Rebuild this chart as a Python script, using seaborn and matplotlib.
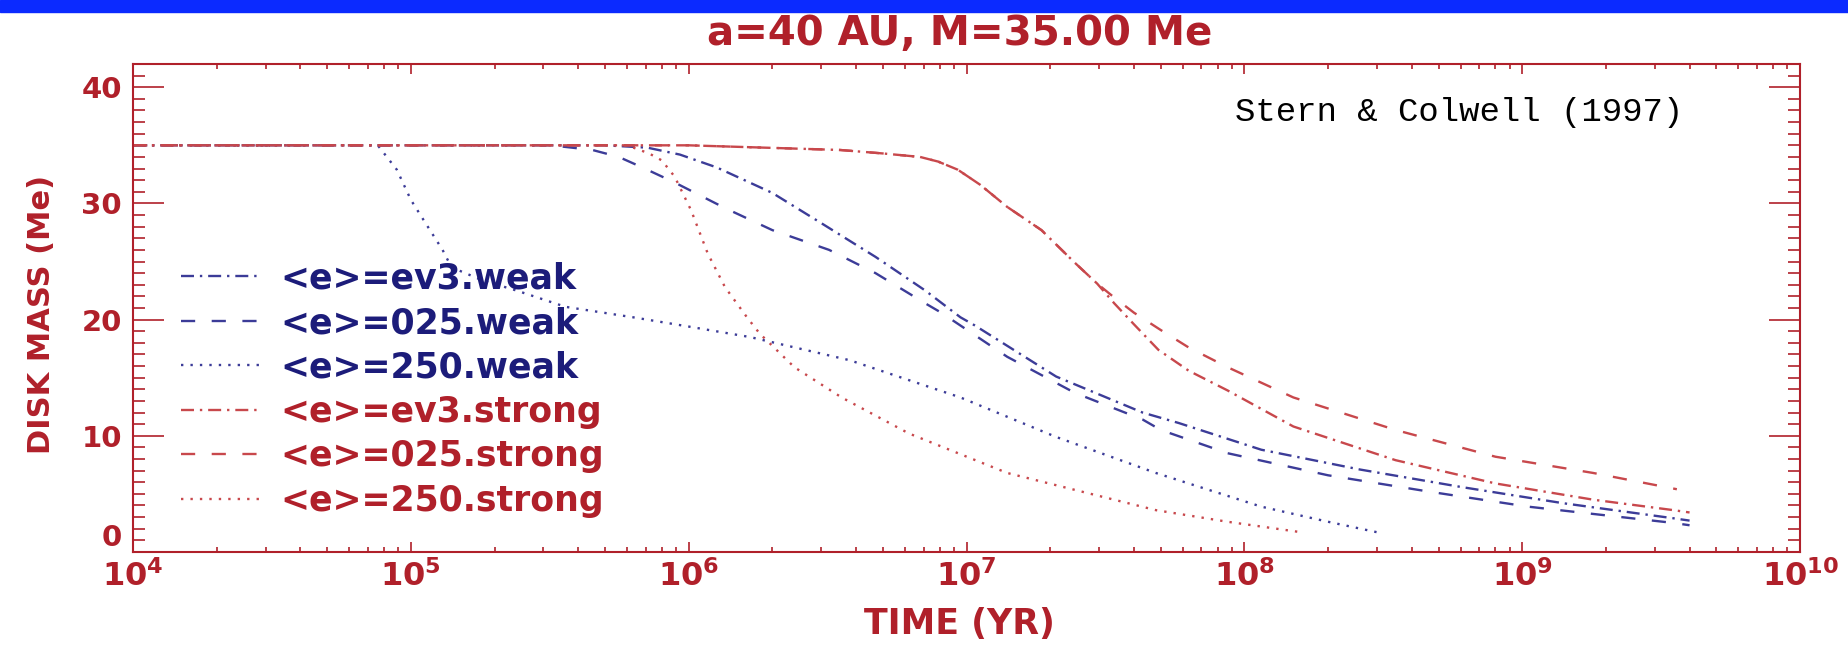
import numpy as np
import pandas as pd
import matplotlib
matplotlib.use('Agg')
import matplotlib.pyplot as plt
from matplotlib import ticker
from matplotlib.patches import Rectangle
import seaborn as sns

t_ev3_weak = [1e4, 5.0e5, 7.1e5, 9.3e5, 1.26e6, 2.0e6, 3.0e6, 4.7e6, 7.1e6, 9.5e6, 1.07e7,
              2.1e7, 4.3e7, 5.8e7, 1.15e8, 2.6e8, 6.0e8, 1.4e9, 3.5e9, 4.0e9]
m_ev3_weak = [35.0, 35.0, 34.8, 34.2, 33.1, 30.9, 28.3, 25.4, 22.5, 20.2, 19.5,
              15.1, 12.0, 11.1, 8.8, 7.1, 5.6, 4.2, 2.9, 2.7]

t_025_weak = [1e4, 3.2e5, 4.5e5, 5.6e5, 6.8e5, 8.9e5, 1.35e6, 2.0e6, 3.2e6, 4.7e6, 7.1e6,
              8.1e6, 1.4e7, 2.45e7, 4.3e7, 5.0e7, 8.7e7, 2.0e8, 4.6e8, 1.05e9, 3.5e9, 4.0e9]
m_025_weak = [35.0, 35.0, 34.6, 34.0, 33.1, 31.8, 29.6, 27.7, 26.0, 24.0, 21.4,
              20.6, 16.8, 13.7, 11.4, 10.5, 8.5, 6.6, 5.2, 3.9, 2.5, 2.3]

t_250_weak = [1e4, 7.6e4, 8.9e4, 1.0e5, 1.15e5, 1.3e5, 1.4e5, 1.8e5, 2.4e5, 3.6e5, 6.3e5,
              1.0e6, 1.66e6, 3.8e6, 9.5e6, 2.1e7, 4.8e7, 1.15e8, 2.0e8, 3.0e8]
m_250_weak = [35.0, 35.0, 32.9, 30.3, 28.0, 26.0, 24.5, 23.4, 22.5, 21.1, 20.2,
              19.4, 18.5, 16.5, 13.3, 9.9, 6.8, 3.9, 2.6, 1.7]

t_ev3_strong = [1e4, 1.0e6, 3.5e6, 5.0e6, 6.8e6, 7.9e6, 9.3e6, 1.12e7, 1.4e7, 1.86e7, 2.45e7,
                2.95e7, 3.4e7, 4.0e7, 4.9e7, 6.3e7, 8.7e7, 1.5e8, 3.5e8, 8.0e8, 1.8e9,
                3.5e9, 4.0e9]
m_ev3_strong = [35.0, 35.0, 34.6, 34.3, 34.0, 33.6, 32.9, 31.6, 29.7, 27.7, 24.9,
                23.1, 21.4, 19.6, 17.4, 15.6, 13.9, 10.8, 7.9, 5.9, 4.5,
                3.6, 3.4]

t_025_strong = [1e4, 1.0e6, 3.5e6, 5.0e6, 6.8e6, 7.9e6, 9.3e6, 1.12e7, 1.4e7, 1.86e7, 2.45e7,
                2.95e7, 3.4e7, 4.0e7, 5.0e7, 6.3e7, 8.7e7, 1.5e8, 3.5e8, 8.0e8, 1.8e9,
                3.6e9]
m_025_strong = [35.0, 35.0, 34.6, 34.3, 34.0, 33.6, 32.9, 31.6, 29.7, 27.7, 24.9,
                23.1, 21.9, 20.6, 19.1, 17.6, 15.9, 13.3, 10.5, 8.2, 6.8,
                5.4]

t_250_strong = [1e4, 6.0e5, 7.2e5, 8.0e5, 8.9e5, 1.02e6, 1.17e6, 1.35e6, 1.62e6, 1.8e6, 2.4e6,
                3.55e6, 6.2e6, 1.4e7, 4.8e7, 8.7e7, 1.6e8]
m_250_strong = [35.0, 35.0, 34.3, 33.7, 32.3, 29.4, 25.7, 22.8, 20.2, 18.8, 15.9,
                13.3, 10.2, 6.8, 3.6, 2.6, 1.7]

labels = ['<e>=ev3.weak', '<e>=025.weak', '<e>=250.weak',
          '<e>=ev3.strong', '<e>=025.strong', '<e>=250.strong']

RED = '#b0202a'
NAVY = '#1c1c7a'
LRED = '#c8484c'
LBLUE = '#3c3c98'

dashdot = (0, (5.5, 2.5, 1, 2.5))
dashed = (0, (6, 7))
dotted = (0, (1, 3))

series = [
    (t_ev3_weak, m_ev3_weak, LBLUE, dashdot),
    (t_025_weak, m_025_weak, LBLUE, dashed),
    (t_250_weak, m_250_weak, LBLUE, dotted),
    (t_ev3_strong, m_ev3_strong, LRED, dashdot),
    (t_025_strong, m_025_strong, LRED, dashed),
    (t_250_strong, m_250_strong, LRED, dotted),
]

sns.set_style('ticks')
plt.rcParams['font.family'] = ['DejaVu Sans']
plt.rcParams['mathtext.fontset'] = 'dejavusans'

fig = plt.figure(figsize=(18.48, 6.49), dpi=100)
ax = fig.add_axes([0.072, 0.1495, 0.9021, 0.7519])

for (t, m, col, ls), lab in zip(series, labels):
    df = pd.DataFrame({'time': t, 'mass': m})
    sns.lineplot(data=df, x='time', y='mass', ax=ax, color=col, linestyle=ls,
                 lw=1.7, label=lab, estimator=None, sort=False)

ax.set_xscale('log')
ax.set_xlim(1e4, 1e10)
ax.set_ylim(0, 42)

ax.xaxis.set_major_locator(ticker.LogLocator(base=10, numticks=10))
ax.xaxis.set_major_formatter(ticker.FuncFormatter(
    lambda v, p: r'$\mathbf{10^{%d}}$' % round(np.log10(v))))
ax.yaxis.set_major_locator(ticker.MultipleLocator(10))
ax.yaxis.set_minor_locator(ticker.MultipleLocator(1))

for s in ax.spines.values():
    s.set_color(RED)
    s.set_linewidth(1.5)
ax.tick_params(which='both', direction='in', top=True, right=True, color=RED, width=1.2)
ax.tick_params(axis='x', which='major', length=7, pad=6, labelsize=23, labelcolor=RED)
ax.tick_params(axis='x', which='minor', length=3.5)
ax.tick_params(axis='y', which='major', length=22, pad=8, labelsize=21, labelcolor=RED)
ax.tick_params(axis='y', which='minor', length=8.5)
for lbl in ax.get_yticklabels():
    lbl.set_fontweight('bold')

ax.set_title('a=40 AU, M=35.00 Me', fontsize=29, fontweight='bold', color=RED, pad=14)
ax.title.set_x(0.496)
ax.set_xlabel('TIME (YR)', fontsize=25, fontweight='bold', color=RED)
ax.set_ylabel('DISK MASS (Me)', fontsize=22, fontweight='bold', color=RED)
ax.xaxis.set_label_coords(0.496, -0.112)
ax.yaxis.set_label_coords(-0.046, 0.486)

ax.text(0.661, 0.9016, 'Stern & Colwell (1997)', transform=ax.transAxes,
        family=['Liberation Mono', 'DejaVu Sans Mono'], fontsize=24.5, color='black',
        ha='left', va='center')

handles, labs = ax.get_legend_handles_labels()
leg = ax.legend(handles, labs, loc='upper left', bbox_to_anchor=(0.029, 0.595),
                frameon=False, prop={'size': 25, 'weight': 'bold'},
                handlelength=2.3, handletextpad=0.55, labelspacing=0.3,
                borderpad=0, borderaxespad=0)
for i, txt in enumerate(leg.get_texts()):
    txt.set_color(NAVY if i < 3 else RED)

# blue strip along the top edge
fig.add_artist(Rectangle((0, 1 - 12 / 649), 1, 12 / 649, transform=fig.transFigure,
                         color='#0b2aff', zorder=10))

# the "0" sits a little above the axis line, like the original
fig.canvas.draw()
for tk in ax.yaxis.get_major_ticks():
    if tk.label1.get_text() == '0':
        tk.label1.set_verticalalignment('bottom')

fig.savefig('out.png', dpi=100)
